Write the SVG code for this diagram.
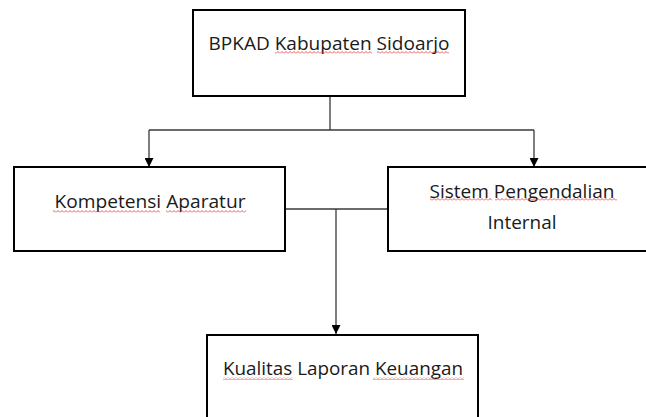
<svg xmlns="http://www.w3.org/2000/svg" width="646" height="417" viewBox="0 0 646 417">
<style>
.box{fill:#fff;stroke:#000;stroke-width:2}
.lbl{font-family:"Open Sans","Liberation Sans",sans-serif;font-size:18px;fill:#1a1a1a;text-anchor:middle}
.conn{fill:none;stroke:#3a3a3a;stroke-width:1.3}
.sq{fill:url(#wave)}
</style>
<defs>
<marker id="arr" viewBox="0 0 10 10" refX="10" refY="5" markerWidth="9" markerHeight="9" markerUnits="userSpaceOnUse" orient="auto">
<path d="M0,0 L10,5 L0,10 Z" fill="#000"/>
</marker>
<pattern id="wave" width="4" height="3" patternUnits="userSpaceOnUse">
<path d="M0,2.5 L2,0.5 L4,2.5" fill="none" stroke="#e03030" stroke-width="0.8"/>
</pattern>
</defs>
<rect width="646" height="417" fill="#fff"/>
<g id="connectors">
<path class="conn" d="M330,97 V130 M149,130 H534"/>
<path class="conn" d="M149,130 V167" marker-end="url(#arr)"/>
<path class="conn" d="M534,130 V167" marker-end="url(#arr)"/>
<path class="conn" d="M286,209 H388"/>
<path class="conn" d="M336,209 V334" marker-end="url(#arr)"/>
</g>
<g id="bpkad">
<rect class="box" x="193" y="10" width="272" height="86"/>
<text class="lbl" x="329" y="50" textLength="241" lengthAdjust="spacingAndGlyphs">BPKAD Kabupaten Sidoarjo</text>
<rect class="sq" x="275" y="51" width="97" height="3"/>
<rect class="sq" x="377" y="51" width="72" height="3"/>
</g>
<g id="kompetensi">
<rect class="box" x="14" y="167" width="271" height="84"/>
<text class="lbl" x="150" y="208" textLength="191" lengthAdjust="spacingAndGlyphs">Kompetensi Aparatur</text>
<rect class="sq" x="53" y="210" width="107" height="3"/>
<rect class="sq" x="166" y="210" width="80" height="3"/>
</g>
<g id="spi">
<rect class="box" x="388" y="167" width="270" height="84"/>
<text class="lbl" x="522" y="198" textLength="185" lengthAdjust="spacingAndGlyphs">Sistem Pengendalian</text>
<text class="lbl" x="522" y="229" textLength="69" lengthAdjust="spacingAndGlyphs">Internal</text>
<rect class="sq" x="430" y="198" width="62" height="3"/>
<rect class="sq" x="495" y="198" width="122" height="3"/>
</g>
<g id="kualitas">
<rect class="box" x="207" y="335" width="271" height="100"/>
<text class="lbl" x="343" y="375" textLength="240" lengthAdjust="spacingAndGlyphs">Kualitas Laporan Keuangan</text>
<rect class="sq" x="223" y="377" width="70" height="3"/>
<rect class="sq" x="373" y="377" width="91" height="3"/>
</g>
</svg>
